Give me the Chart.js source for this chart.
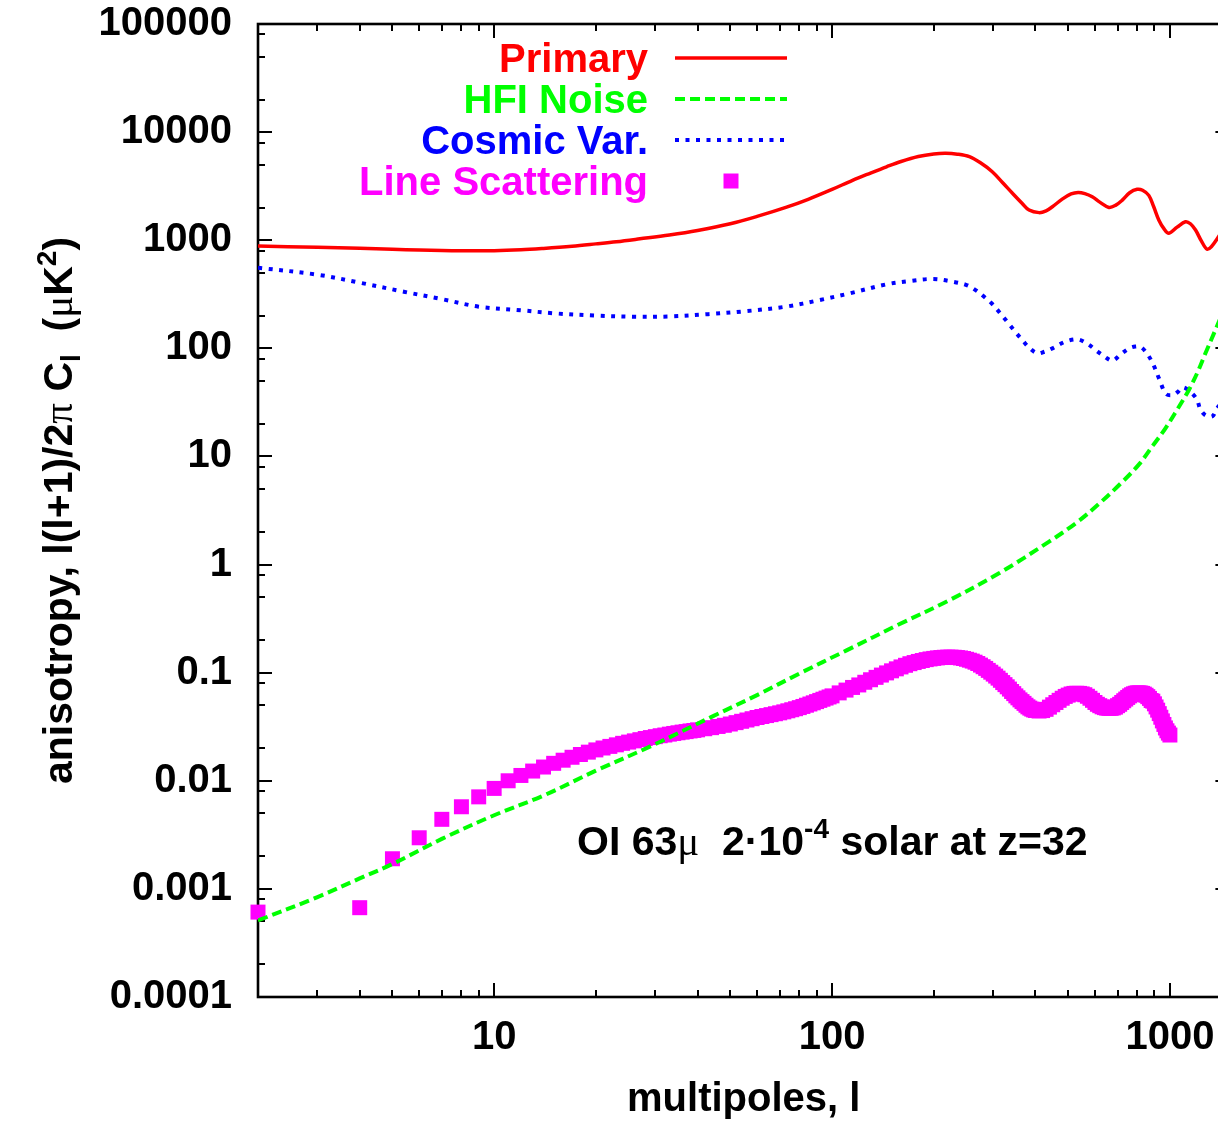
<!DOCTYPE html>
<html>
<head>
<meta charset="utf-8">
<script src="https://cdn.jsdelivr.net/npm/chart.js@4/dist/chart.umd.min.js"></script>
<style>
  html, body { margin: 0; padding: 0; overflow: hidden; background: #ffffff; }
  #wrap { position: absolute; left: 0; top: 0; width: 1240px; height: 1123px; }
</style>
</head>
<body>
<div id="wrap"><canvas id="cl" width="1240" height="1123"></canvas></div>
<script>
// ---- Angular power spectra, l(l+1)/2pi C_l in microK^2 ----

// Primary CMB anisotropy
const primaryL  = [2, 3, 4, 5, 6, 7, 8, 10, 12, 14, 17, 20, 23, 27, 33, 40, 50, 60, 73, 85,
                   100, 115, 130, 145, 160, 180, 200, 217, 235, 255, 275, 298, 320, 342, 365, 383,
                   410, 430, 449, 480, 510, 535, 560, 589, 620, 660, 690, 723, 760, 800, 830, 866,
                   895, 927, 960, 993, 1050, 1112, 1150, 1191, 1240, 1289, 1330, 1377, 1450, 1500];
const primaryCl = [883, 860, 842, 825, 812, 803, 800, 800, 815, 840, 880, 925, 968, 1030, 1117, 1230, 1420, 1660, 2010, 2390,
                   2950, 3580, 4180, 4780, 5350, 5950, 6280, 6370, 6250, 5920, 5200, 4300, 3400, 2720, 2200, 1900,
                   1800, 1870, 2040, 2400, 2680, 2770, 2700, 2520, 2250, 2010, 2100, 2350, 2750, 2960, 2900, 2600,
                   2050, 1540, 1280, 1160, 1320, 1483, 1420, 1242, 980, 825, 880, 1019, 1300, 1450];

// HFI detector noise
const noiseL  = [2, 3, 4, 5, 7, 10, 14, 20, 29, 44, 60, 80, 110, 158, 220, 312, 439, 530, 617, 710, 809, 890, 970,
                 1050, 1137, 1210, 1274, 1377, 1500];
const noiseCl = [5.1e-4, 8.4e-4, 1.25e-3, 1.7e-3, 2.9e-3, 4.8e-3, 7.3e-3, 0.0124, 0.0208, 0.039, 0.062, 0.098,
                 0.16, 0.28, 0.46, 0.83, 1.63, 2.45, 3.65, 5.5, 8.4, 12.6, 18.2, 27, 41, 61, 90, 159, 300];

// Cosmic variance
const cosmicL  = [2, 3, 4, 5.4, 7, 9, 12, 15, 20, 26, 33, 43, 55, 73, 92, 113, 145, 170, 199, 228,
                  250, 266, 282, 298, 315, 333, 350, 366, 385, 405, 425, 449, 490, 532, 570, 604,
                  640, 676, 715, 758, 790, 819, 850, 889, 930, 973, 1020, 1060, 1090, 1135, 1200,
                  1230, 1275, 1335, 1380, 1450, 1500];
const cosmicCl = [557, 480, 405, 334, 285, 243, 225, 211, 201, 196, 197, 207, 220, 243, 280, 323, 391, 420, 438, 413,
                  385, 346, 300, 257, 210, 170, 140, 119, 100, 90, 93, 100, 115, 121, 110, 96,
                  84, 77, 88, 100, 104, 103, 92, 73, 52, 38, 37, 40, 43.5, 41, 34,
                  27.5, 24, 23.5, 28, 33, 36];

// OI 63 micron line scattering signal
const scatterL = [2, 4, 5, 6, 7, 8, 9, 10, 11, 12, 13, 14, 15, 16, 17, 18, 19, 20, 21, 22, 23, 24, 25, 26, 27, 28, 29, 30,
                  31, 32, 33, 34, 35, 36, 37, 38, 39, 40,
                  42, 44, 46, 48, 50, 52, 54, 56, 58, 60, 62, 64, 66, 68, 70, 72, 74, 76, 78, 80, 82, 84, 86, 88, 90,
                  92, 94, 96, 98,
                  100, 105, 110, 115, 120, 125, 130, 135, 140, 145, 150, 155, 160, 165, 170, 175, 180, 185, 190, 195,
                  200, 205, 210, 215, 220, 225, 230, 235, 240, 245, 250, 255, 260, 265, 270, 275, 280, 285, 290, 295,
                  300, 305, 310, 315, 320, 325, 330, 335, 340, 345, 350, 355, 360, 365, 370, 375, 380, 385, 390, 395, 400,
                  410, 420, 430, 440, 450, 460, 470, 480, 490, 500, 510, 520, 530, 540, 550, 560, 570, 580, 590, 600,
                  610, 620, 630, 640, 650, 660, 670, 680, 690, 700, 710, 720, 730, 740, 750, 760, 770, 780, 790, 800,
                  810, 820, 830, 840, 850, 860, 870, 880, 890, 900, 910, 920, 930, 940, 950, 960, 970, 980, 990, 1000];
const scatterCl = [6.1e-4, 6.7e-4, 1.9e-3, 2.97e-3, 4.4e-3, 5.75e-3, 7.1e-3, 8.5e-3, 0.0100, 0.0112, 0.0123, 0.0134,
                   0.0145, 0.0155, 0.0165, 0.0175, 0.0184, 0.0193, 0.0201, 0.0208, 0.0215, 0.0222, 0.0228, 0.0234,
                   0.0240, 0.0246, 0.0251, 0.0256, 0.0261, 0.0265, 0.0270, 0.0274, 0.0278, 0.0282, 0.0285, 0.0289,
                   0.0292, 0.0296,
                   0.0303, 0.0310, 0.0318, 0.0326, 0.0335, 0.0345, 0.0355, 0.0365, 0.0375, 0.0385, 0.0393, 0.0401,
                   0.0409, 0.0417, 0.0425, 0.0434, 0.0444, 0.0454, 0.0464, 0.0475, 0.0487, 0.0500, 0.0513, 0.0526,
                   0.0540, 0.0554, 0.0568, 0.0582, 0.0596,
                   0.0610, 0.0650, 0.0690, 0.0730, 0.0770, 0.0815, 0.0860, 0.0905, 0.0950, 0.0995, 0.1040, 0.1085,
                   0.1130, 0.1170, 0.1210, 0.1240, 0.1270, 0.1295, 0.1320, 0.1340,
                   0.1355, 0.1370, 0.1380, 0.1388, 0.1392, 0.1392, 0.1388, 0.1380, 0.1368, 0.1352, 0.1330, 0.1305,
                   0.1280, 0.1250, 0.1215, 0.1175, 0.1135, 0.1095, 0.1050, 0.1010,
                   0.0970, 0.0930, 0.0890, 0.0850, 0.0810, 0.0775, 0.0740, 0.0705, 0.0670, 0.0640, 0.0610, 0.0585,
                   0.0560, 0.0540, 0.0520, 0.0500, 0.0483, 0.0470, 0.0460, 0.0452, 0.0447,
                   0.0442, 0.0446, 0.0458, 0.0480, 0.0505, 0.0530, 0.0555, 0.0580, 0.0603, 0.0620, 0.0635, 0.0643,
                   0.0645, 0.0643, 0.0636, 0.0625, 0.0605, 0.0580, 0.0555, 0.0530,
                   0.0510, 0.0495, 0.0483, 0.0475, 0.0470, 0.0468, 0.0468, 0.0472, 0.0480, 0.0495, 0.0510, 0.0530,
                   0.0550, 0.0570, 0.0590, 0.0610, 0.0625, 0.0637, 0.0645, 0.0650,
                   0.0650, 0.0648, 0.0643, 0.0633, 0.0618, 0.0600, 0.0578, 0.0553, 0.0545, 0.0515, 0.0482, 0.0450,
                   0.0418, 0.0387, 0.0358, 0.0332, 0.0308, 0.0290, 0.0276, 0.0265];

// Axis ticks: x gets 2..9 per decade, y gets 2, 5, 8 per decade
const xTickValues = [2, 3, 4, 5, 6, 7, 8, 9, 10, 20, 30, 40, 50, 60, 70, 80, 90,
                     100, 200, 300, 400, 500, 600, 700, 800, 900, 1000];
const yTickValues = [1e-4, 2e-4, 5e-4, 8e-4, 1e-3, 2e-3, 5e-3, 8e-3, 1e-2, 2e-2, 5e-2, 8e-2, 0.1, 0.2, 0.5, 0.8,
                     1, 2, 5, 8, 10, 20, 50, 80, 100, 200, 500, 800, 1000, 2000, 5000, 8000,
                     10000, 20000, 50000, 80000, 100000];

const seriesNames = ['Primary', 'HFI Noise', 'Cosmic Var.', 'Line Scattering'];

const FAMILY = '"Liberation Sans", Arial, Helvetica, sans-serif';
const BOLD = 'bold 40px ' + FAMILY;
const BOLD41 = 'bold 41px ' + FAMILY;
const SMALL = 'bold 28px ' + FAMILY;
const GREEK41 = '41px "Liberation Serif", "DejaVu Serif", serif';

function pairs(xs, ys) { return xs.map((x, i) => ({ x: x, y: ys[i] })); }
function isDecade(v) { const e = Math.log10(v); return Math.abs(e - Math.round(e)) < 1e-9; }

function drawRich(ctx, parts, x, y, align) {
  let w = 0;
  parts.forEach(p => { ctx.font = p.f; p.w = ctx.measureText(p.t).width; w += p.w; });
  let cx = align === 'right' ? x - w : (align === 'center' ? x - w / 2 : x);
  parts.forEach(p => {
    ctx.font = p.f;
    ctx.fillStyle = p.c || '#000';
    ctx.fillText(p.t, cx, y + (p.dy || 0));
    cx += p.w;
  });
}

// Closed frame with inward ticks on all four sides, plus key, y title and label
const framePlugin = {
  id: 'framePlugin',
  beforeDatasetsDraw(chart) {
    const { ctx, chartArea: a, scales: { x, y } } = chart;
    ctx.save();
    ctx.strokeStyle = '#000';
    ctx.lineWidth = 2;
    ctx.beginPath();
    x.ticks.forEach(t => {
      const px = Math.round(x.getPixelForValue(t.value));
      const len = isDecade(t.value) ? 14 : 7;
      ctx.moveTo(px, a.bottom); ctx.lineTo(px, a.bottom - len);
      ctx.moveTo(px, a.top); ctx.lineTo(px, a.top + len);
    });
    y.ticks.forEach(t => {
      const py = Math.round(y.getPixelForValue(t.value));
      const len = isDecade(t.value) ? 14 : 7;
      ctx.moveTo(a.left, py); ctx.lineTo(a.left + len, py);
      ctx.moveTo(a.right, py); ctx.lineTo(a.right - len, py);
    });
    ctx.stroke();
    ctx.lineWidth = 2.6;
    ctx.strokeRect(a.left, a.top, a.right - a.left, a.bottom - a.top);
    ctx.restore();
  },
  afterDraw(chart) {
    const { ctx, chartArea: a } = chart;
    ctx.save();
    ctx.textAlign = 'left';
    ctx.textBaseline = 'alphabetic';

    // key
    const rowY = [58, 99, 140, 181];
    chart.data.datasets.forEach((ds, i) => {
      const color = ds.showLine ? ds.borderColor : ds.backgroundColor;
      drawRich(ctx, [{ t: ds.label, f: BOLD, c: color }], 648, rowY[i] + 14, 'right');
      if (ds.showLine) {
        ctx.strokeStyle = ds.borderColor;
        ctx.lineWidth = ds.borderWidth;
        ctx.setLineDash(ds.borderDash || []);
        ctx.beginPath();
        ctx.moveTo(675, rowY[i]);
        ctx.lineTo(787, rowY[i]);
        ctx.stroke();
        ctx.setLineDash([]);
      } else {
        const half = ds.pointRadius * Math.SQRT1_2;
        ctx.fillStyle = ds.backgroundColor;
        ctx.fillRect(731 - half, rowY[i] - half, 2 * half, 2 * half);
      }
    });

    // y axis title, rotated
    ctx.save();
    ctx.translate(72, (a.top + a.bottom) / 2);
    ctx.rotate(-Math.PI / 2);
    drawRich(ctx, [
      { t: 'anisotropy, l(l+1)/2', f: BOLD41 },
      { t: '\u03c0', f: GREEK41 },
      { t: ' C', f: BOLD41 },
      { t: 'l', f: SMALL, dy: 8 },
      { t: '  (', f: BOLD41 },
      { t: '\u03bc', f: GREEK41 },
      { t: 'K', f: BOLD41 },
      { t: '2', f: SMALL, dy: -16 },
      { t: ')', f: BOLD41 }
    ], 0, 0, 'center');
    ctx.restore();

    // line / metallicity label
    drawRich(ctx, [
      { t: 'OI 63', f: BOLD41 },
      { t: '\u03bc', f: GREEK41 },
      { t: '  2\u00b710', f: BOLD41 },
      { t: '-4', f: SMALL, dy: -17 },
      { t: ' solar at z=32', f: BOLD41 }
    ], 577, 855, 'left');
    ctx.restore();
  }
};

const tickFont = { family: FAMILY, size: 40, weight: 'bold', lineHeight: 1 };

new Chart(document.getElementById('cl'), {
  type: 'scatter',
  data: {
    datasets: [
      { label: seriesNames[0], data: pairs(primaryL, primaryCl), showLine: true, borderColor: '#ff0000',
        borderWidth: 3.5, pointRadius: 0, tension: 0.35 },
      { label: seriesNames[1], data: pairs(noiseL, noiseCl), showLine: true, borderColor: '#00ff00',
        borderWidth: 4, borderDash: [10, 5], pointRadius: 0, tension: 0.35 },
      { label: seriesNames[2], data: pairs(cosmicL, cosmicCl), showLine: true, borderColor: '#0000ff',
        borderWidth: 4, borderDash: [4, 6.5], pointRadius: 0, tension: 0.35 },
      { label: seriesNames[3], data: pairs(scatterL, scatterCl), showLine: false, backgroundColor: '#ff00ff',
        borderWidth: 0, pointStyle: 'rect', pointRadius: 10.6, clip: false }
    ]
  },
  options: {
    responsive: false,
    animation: false,
    devicePixelRatio: 1,
    layout: { padding: { top: 24, right: 9, left: 0, bottom: 0 } },
    plugins: { legend: { display: false }, tooltip: { enabled: false } },
    elements: { point: { hoverRadius: 0 } },
    scales: {
      x: {
        type: 'logarithmic', position: 'bottom', min: 2, max: 1500,
        afterBuildTicks: s => { s.ticks = xTickValues.map(v => ({ value: v })); },
        afterFit: s => { s.height = 126; s.paddingLeft = 0; s.paddingRight = 0; },
        grid: { display: false, drawTicks: false },
        border: { display: false },
        ticks: {
          autoSkip: false, maxRotation: 0, padding: 21, color: '#000', font: tickFont,
          callback: v => isDecade(v) ? String(v) : ''
        },
        title: { display: true, text: 'multipoles, l', color: '#000',
                 font: { family: FAMILY, size: 40, weight: 'bold', lineHeight: 1 },
                 padding: { top: 0, bottom: 3 } }
      },
      y: {
        type: 'logarithmic', position: 'left', min: 1e-4, max: 1e5,
        afterBuildTicks: s => { s.ticks = yTickValues.map(v => ({ value: v })); },
        afterFit: s => { s.width = 258; s.paddingTop = 0; s.paddingBottom = 0; },
        grid: { display: false, drawTicks: false },
        border: { display: false },
        ticks: {
          autoSkip: false, padding: 26, color: '#000', font: tickFont,
          callback: v => {
            if (!isDecade(v)) return '';
            return v >= 1 ? String(Math.round(v)) : v.toFixed(Math.round(-Math.log10(v)));
          }
        }
      }
    }
  },
  plugins: [framePlugin]
});
</script>
</body>
</html>
